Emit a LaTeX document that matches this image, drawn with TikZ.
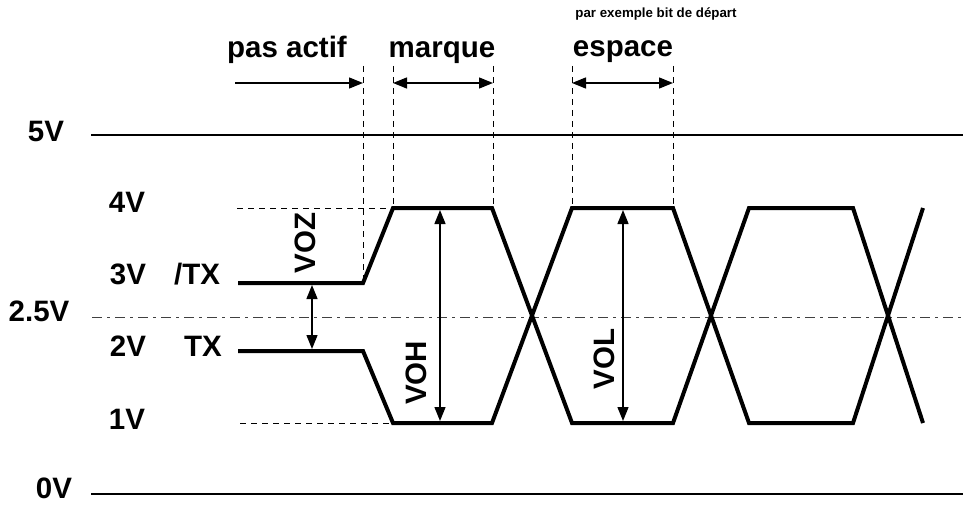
\documentclass[tikz,border=0pt]{standalone}
\usepackage{fontspec}
\setmainfont{Liberation Sans}
\usetikzlibrary{arrows.meta}

\begin{document}
\begin{tikzpicture}[x=1pt,y=-1pt,
    lbl/.style={font=\fontsize{29.5}{30}\selectfont\bfseries, inner sep=0pt},
    sig/.style={line width=4pt},
    guide/.style={line width=0.9pt, dash pattern=on 6pt off 5pt},
    dimarrow/.style={line width=1.4pt, {Triangle[length=14pt,width=11pt]}-{Triangle[length=14pt,width=11pt]}}]
    \useasboundingbox (0,0) rectangle (963,505);

    % Voltage levels
    \draw[line width=1.2pt] (91,135) -- (963,135);
    \draw[line width=1.2pt] (91,494) -- (963,494);
    \draw[line width=1pt, black!75, dash pattern=on 10pt off 5pt on 3pt off 5pt] (92,317) -- (963,317);
    \draw[guide] (237,208) -- (392,208);
    \draw[guide] (240,423) -- (392,423);

    \node[lbl] (v5) at (46,131) {5V};
    \node[lbl] (v4) at (127,202) {4V};
    \node[lbl] (v3) at (128,274) {3V};
    \node[lbl] (v25) at (39,311) {2.5V};
    \node[lbl] (v2) at (128,346) {2V};
    \node[lbl] (v1) at (127,419) {1V};
    \node[lbl] (v0) at (54,488) {0V};
    \node[lbl] (ntx) at (197,274) {/TX};
    \node[lbl] (tx) at (203,346) {TX};

    % Time marks
    \foreach \t in {393,493,572,673}
        \draw[guide] (\t,66) -- (\t,208);
    \draw[guide] (363,66) -- (363,283);

    \coordinate (pa0) at (235,83);
    \coordinate (pa1) at (363,83);
    \coordinate (ma0) at (393,83);
    \coordinate (ma1) at (493,83);
    \coordinate (es0) at (572,83);
    \coordinate (es1) at (673,83);
    \draw[line width=1.4pt, -{Triangle[length=14pt,width=11pt]}] (pa0) -- (pa1);
    \draw[dimarrow] (ma0) -- (ma1);
    \draw[dimarrow] (es0) -- (es1);

    \node[lbl, anchor=base] (pasactif) at (287,58) {pas actif};
    \node[lbl, anchor=base] (marque) at (442,58) {marque};
    \node[lbl, anchor=base] (espace) at (623,57) {espace};
    \node[font=\fontsize{13.3}{14}\selectfont\bfseries, inner sep=0pt, anchor=base] (bitdep) at (656,18) {par exemple bit de départ};

    % Signals /TX and TX
    \draw[sig] (238,283) -- (363,283) -- (393,208) -- (492,208) -- (572,423) -- (673,423)
        -- (749,208) -- (853,208) -- (923,423);
    \draw[sig] (238,351) -- (363,351) -- (393,423) -- (492,423) -- (572,208) -- (673,208)
        -- (749,423) -- (853,423) -- (923,208);

    % Differential voltages
    \coordinate (oz0) at (312,285);
    \coordinate (oz1) at (312,349);
    \coordinate (oh0) at (440,210);
    \coordinate (oh1) at (440,421);
    \coordinate (ol0) at (623,210);
    \coordinate (ol1) at (623,421);
    \draw[dimarrow] (oz0) -- (oz1);
    \draw[dimarrow] (oh0) -- (oh1);
    \draw[dimarrow] (ol0) -- (ol1);

    \node[lbl, rotate=90] (voz) at (305,243) {VOZ};
    \node[lbl, rotate=90] (voh) at (416,373) {VOH};
    \node[lbl, rotate=90] (vol) at (604,359) {VOL};
\end{tikzpicture}
\end{document}
